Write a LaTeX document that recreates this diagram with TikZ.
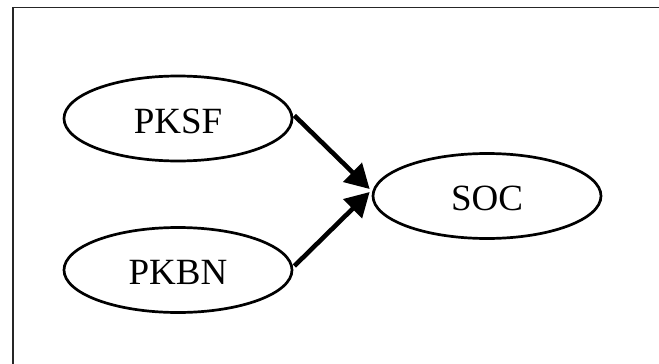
\documentclass[tikz,border=0pt]{standalone}
\usepackage{fontspec}
\setmainfont{Liberation Serif}
\usetikzlibrary{arrows.meta,shapes.geometric}
\begin{document}
\begin{tikzpicture}[x=1pt,y=-1pt,
  oval/.style={ellipse,draw=black,line width=2.7pt,minimum width=228pt,minimum height=85pt,
    inner sep=0pt,font=\fontsize{37}{37}\selectfont,text height=29pt,text depth=0pt},
  edge/.style={line width=4.6pt,-{Triangle[length=24pt,width=26pt]}},
  frame/.style={draw=black!85,line width=1.3pt}]
\useasboundingbox (0,0) rectangle (659,364);
\coordinate (fb) at (13,364);
\coordinate (fc) at (13,7.5);
\coordinate (fr) at (659,7.5);
\draw[frame] (fb) -- (fc) -- (fr);
\node[oval] (pksf) at (178,118.5) {PKSF};
\node[oval] (pkbn) at (178,270) {PKBN};
\node[oval] (soc) at (487,196) {SOC};
\draw[edge] ([shift={(1,-3)}]pksf.east) -- ([shift={(-2,-7)}]soc.west);
\draw[edge] ([shift={(1,-4)}]pkbn.east) -- ([shift={(-2,-4)}]soc.west);
\end{tikzpicture}
\end{document}
